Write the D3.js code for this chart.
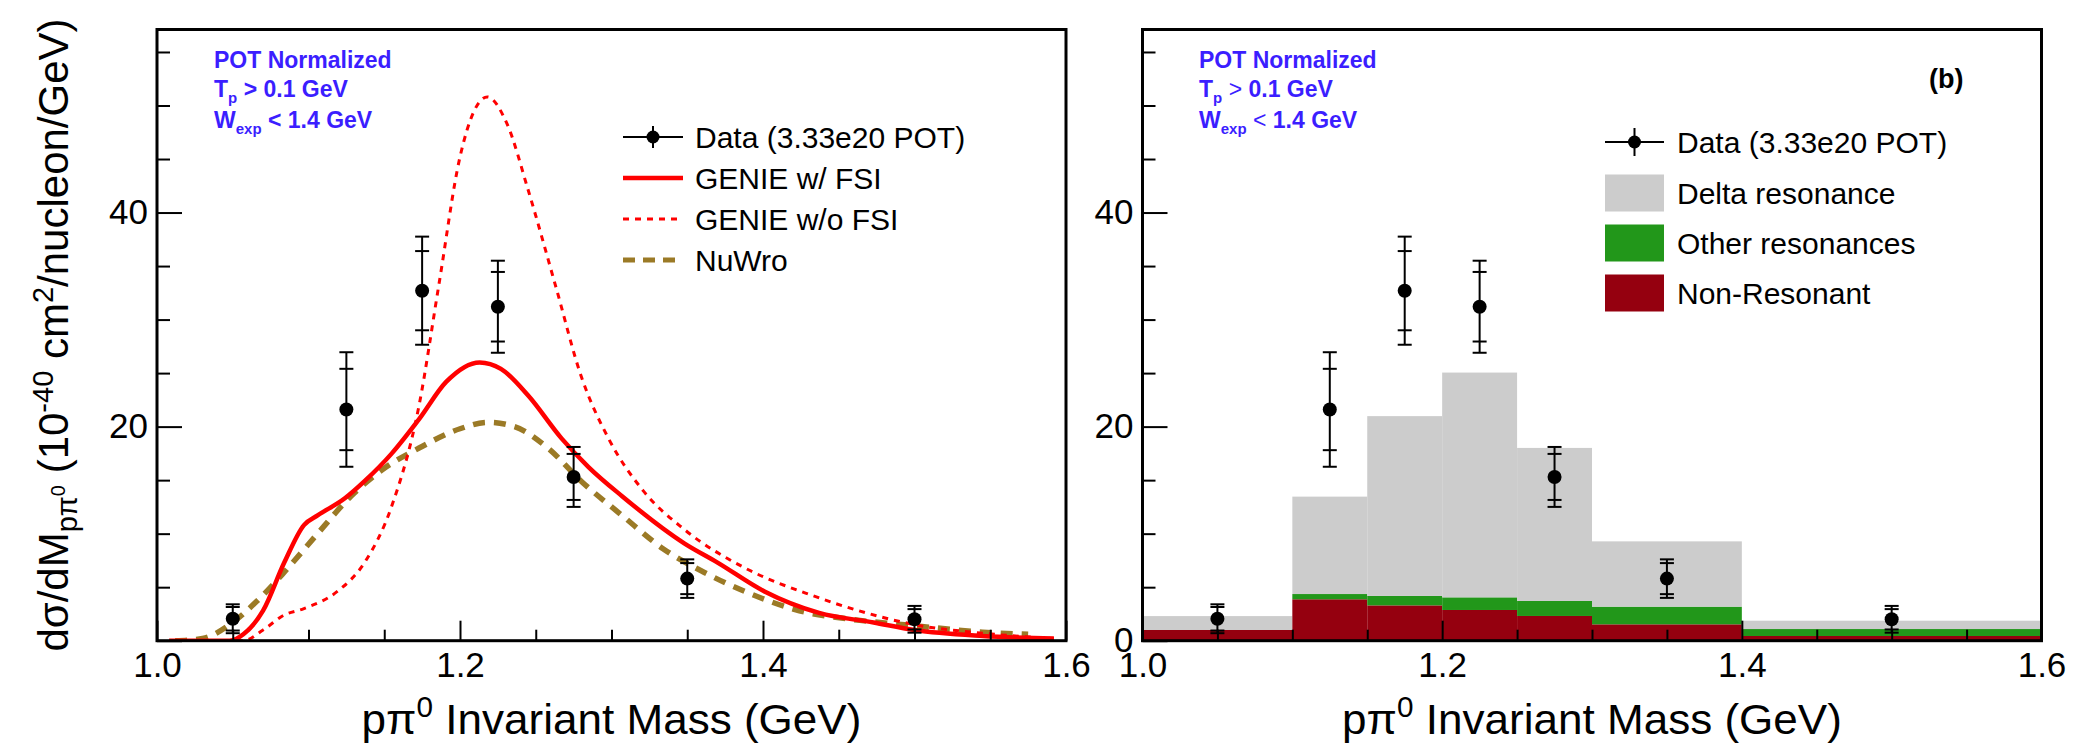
<!DOCTYPE html>
<html><head><meta charset="utf-8">
<script src="https://cdn.jsdelivr.net/npm/d3@7"></script>
<style>
body{margin:0;background:#fff;}
svg text{font-family:"Liberation Sans",Arial,Helvetica,sans-serif;}
</style></head><body>
<svg id="chart" width="2080" height="747"></svg>
<script>
// ---------- data ----------
const dataX = [1.05, 1.125, 1.175, 1.225, 1.275, 1.35, 1.5];
const dataY = [2.05, 21.6, 32.7, 31.2, 15.3, 5.8, 2.0];
const dataStatErr = [1.1, 3.8, 3.7, 3.25, 2.15, 1.45, 0.95];
const dataTotErr = [1.35, 5.35, 5.05, 4.3, 2.8, 1.8, 1.25];

const genieFsiX = [1.008,1.048,1.057,1.070,1.084,1.097,1.106,1.124,1.137,1.155,1.173,1.191,1.213,1.227,1.245,1.267,1.285,1.307,1.348,1.370,1.401,1.437,1.473,1.500,1.545,1.592];
const genieFsiY = [0,0,0.6,2.8,7.3,10.8,11.7,13.3,14.9,17.5,20.7,24.2,26.0,25.4,22.9,18.9,16.2,13.5,9.1,7.3,4.6,2.6,1.7,1.0,0.45,0.2];

const genieNoFsiX = [1.021,1.057,1.070,1.084,1.097,1.119,1.137,1.155,1.173,1.186,1.200,1.218,1.231,1.245,1.263,1.280,1.298,1.321,1.348,1.388,1.433,1.468,1.500,1.545,1.592];
const genieNoFsiY = [0,0,1.0,2.4,3.0,4.6,7.3,12.6,22.0,33.2,45.2,50.8,48.3,42.1,33.2,24.7,18.9,14.0,10.4,6.8,4.2,2.6,1.5,0.7,0.2];

const nuwroX = [1.012,1.030,1.048,1.066,1.084,1.106,1.128,1.151,1.173,1.200,1.218,1.236,1.258,1.280,1.307,1.334,1.361,1.388,1.424,1.464,1.500,1.545,1.575];
const nuwroY = [0,0.2,1.5,3.7,6.4,10.0,13.5,16.2,18.0,19.8,20.4,20.0,18.0,14.9,11.7,8.6,6.4,4.6,2.8,1.9,1.4,0.8,0.6];

const binEdges = [1.0, 1.1, 1.15, 1.2, 1.25, 1.3, 1.4, 1.6];
const nonResonant = [1.0, 3.87, 3.3, 2.87, 2.31, 1.53, 0.44];
const otherResonances = [0.0, 0.49, 0.88, 1.18, 1.4, 1.65, 0.65];
const deltaResonance = [1.3, 9.1, 16.8, 21.0, 14.3, 6.1, 0.78];

const xMajorTicks = [1.0, 1.2, 1.4, 1.6];
const xTickLabels = ["1.0", "1.2", "1.4", "1.6"];
const xMinorTicks = [1.05,1.1,1.15,1.25,1.3,1.35,1.45,1.5,1.55];
const yMajorTicks = [0, 20, 40];
const yMinorTicks = [5,10,15,25,30,35,45,50,55];
const yLabelsLeft = ["", "20", "40"];
const yLabelsRight = ["0", "20", "40"];

const legendLeft = ["Data (3.33e20 POT)", "GENIE w/ FSI", "GENIE w/o FSI", "NuWro"];
const legendRight = ["Data (3.33e20 POT)", "Delta resonance", "Other resonances", "Non-Resonant"];

// ---------- layout ----------
const svg = d3.select('#chart');
const yTop = 29.5, yBot = 640.7;
const panels = [{x0:157, x1:1066}, {x0:1142.5, x1:2041.5}];
const yMax = 57.1;
const BLUE = '#3b1eff';
const RED = '#ff0000';
const BROWN = '#9b7a26';
const GRAY = '#cccccc', GREEN = '#22971a', DKRED = '#95000f';

function scales(p){
  return {
    x: d3.scaleLinear().domain([1.0,1.6]).range([p.x0,p.x1]),
    y: d3.scaleLinear().domain([0,yMax]).range([yBot,yTop])
  };
}

function drawAxes(g, sx, sy, yLabels){
  const x0 = sx.range()[0];
  const clean = s => s.select('.domain').remove();
  g.append('g').attr('transform',`translate(${x0},0)`)
    .call(d3.axisLeft(sy).tickValues(yMinorTicks).tickSizeInner(-13).tickSizeOuter(0).tickFormat(''))
    .call(clean);
  g.append('g').attr('transform',`translate(${x0},0)`)
    .call(d3.axisLeft(sy).tickValues(yMajorTicks).tickSizeInner(-25).tickSizeOuter(0).tickPadding(9)
      .tickFormat((d,i)=>yLabels[i]))
    .call(clean);
  g.append('g').attr('transform',`translate(0,${yBot})`)
    .call(d3.axisBottom(sx).tickValues(xMinorTicks).tickSizeInner(-11).tickSizeOuter(0).tickFormat(''))
    .call(clean);
  g.append('g').attr('transform',`translate(0,${yBot})`)
    .call(d3.axisBottom(sx).tickValues(xMajorTicks).tickSizeInner(-20).tickSizeOuter(0).tickPadding(11)
      .tickFormat((d,i)=>xTickLabels[i]))
    .call(clean);
  g.selectAll('.tick line').attr('stroke','#000').attr('stroke-width',2);
  g.selectAll('.tick text').attr('font-size',35).attr('fill','#000')
    .attr('font-family','"Liberation Sans",Arial,Helvetica,sans-serif');
  g.append('rect').attr('x',sx.range()[0]).attr('y',yTop)
    .attr('width',sx.range()[1]-sx.range()[0]).attr('height',yBot-yTop)
    .attr('fill','none').attr('stroke','#000').attr('stroke-width',3);
}

function drawData(g, sx, sy){
  const pts = dataX.map((x,i)=>({x, y:dataY[i], s:dataStatErr[i], t:dataTotErr[i]}));
  const pg = g.append('g');
  pts.forEach(p=>{
    const cx = sx(p.x);
    pg.append('line').attr('x1',cx).attr('x2',cx).attr('y1',sy(p.y+p.t)).attr('y2',sy(Math.max(0,p.y-p.t)))
      .attr('stroke','#000').attr('stroke-width',2);
    [p.y+p.t, p.y-p.t, p.y+p.s, p.y-p.s].forEach(v=>{
      pg.append('line').attr('x1',cx-7).attr('x2',cx+7).attr('y1',sy(v)).attr('y2',sy(v))
        .attr('stroke','#000').attr('stroke-width',2);
    });
    pg.append('circle').attr('cx',cx).attr('cy',sy(p.y)).attr('r',7).attr('fill','#000');
  });
}

function drawNote(g, x, thinSigns){
  const t = g.append('g').attr('fill',BLUE).attr('font-weight','bold').attr('font-size',23);
  t.append('text').attr('x',x).attr('y',68).text('POT Normalized');
  const w = thinSigns ? 'normal' : 'bold';
  const t2 = t.append('text').attr('x',x).attr('y',97);
  t2.append('tspan').text('T');
  t2.append('tspan').attr('font-size',15).attr('dy',6).text('p');
  t2.append('tspan').attr('dy',-6).text(' ');
  t2.append('tspan').attr('font-weight',w).text('>');
  t2.append('tspan').text(' 0.1 GeV');
  const t3 = t.append('text').attr('x',x).attr('y',128);
  t3.append('tspan').text('W');
  t3.append('tspan').attr('font-size',15).attr('dy',6).text('exp');
  t3.append('tspan').attr('dy',-6).text(' ');
  t3.append('tspan').attr('font-weight',w).text('<');
  t3.append('tspan').text(' 1.4 GeV');
}

function xTitle(g, cx){
  const t = g.append('text').attr('x',0).attr('y',0).attr('text-anchor','middle').attr('font-size',43).attr('fill','#000');
  t.append('tspan').text('pπ');
  t.append('tspan').attr('font-size',29).attr('dy',-17).text('0');
  t.append('tspan').attr('dy',17).text(' Invariant Mass (GeV)');
  const w = t.node().getBBox().width;
  t.attr('transform',`translate(${cx},734) scale(${500/w},1)`);
}

function legendText(g, x, y, txt){
  g.append('text').attr('x',x).attr('y',y)
    .attr('dy','0.36em').attr('font-size',30).attr('fill','#000').text(txt);
}

function legendDataMarker(g, x1, x2, y, half){
  const cx = (x1+x2)/2;
  g.append('line').attr('x1',x1).attr('x2',x2).attr('y1',y).attr('y2',y).attr('stroke','#000').attr('stroke-width',2);
  g.append('line').attr('x1',cx).attr('x2',cx).attr('y1',y-half).attr('y2',y+half).attr('stroke','#000').attr('stroke-width',2);
  g.append('circle').attr('cx',cx).attr('cy',y).attr('r',6.5).attr('fill','#000');
}

// ---------- left panel ----------
{
  const s = scales(panels[0]);
  const g = svg.append('g');
  svg.append('clipPath').attr('id','clipL').append('rect')
    .attr('x',panels[0].x0).attr('y',yTop).attr('width',panels[0].x1-panels[0].x0).attr('height',yBot-yTop);
  const cg = g.append('g').attr('clip-path','url(#clipL)');
  const line = d3.line().x(d=>s.x(d[0])).y(d=>s.y(d[1])).curve(d3.curveMonotoneX);
  cg.append('path').datum(nuwroX.map((x,i)=>[x,nuwroY[i]])).attr('d',line)
    .attr('fill','none').attr('stroke',BROWN).attr('stroke-width',5.5).attr('stroke-dasharray','12,9');
  cg.append('path').datum(genieNoFsiX.map((x,i)=>[x,genieNoFsiY[i]])).attr('d',line)
    .attr('fill','none').attr('stroke',RED).attr('stroke-width',3).attr('stroke-dasharray','6,6');
  cg.append('path').datum(genieFsiX.map((x,i)=>[x,genieFsiY[i]])).attr('d',line)
    .attr('fill','none').attr('stroke',RED).attr('stroke-width',4.5);
  drawData(g, s.x, s.y);
  drawAxes(g, s.x, s.y, yLabelsLeft);
  drawNote(g, 214, false);
  xTitle(g, (panels[0].x0+panels[0].x1)/2);

  // legend
  const lg = g.append('g');
  const rows = [137, 178, 219, 260];
  const lx1 = 623, lx2 = 683;
  legendDataMarker(lg, lx1, lx2, rows[0], 11);
  lg.append('line').attr('x1',lx1).attr('x2',lx2).attr('y1',rows[1]).attr('y2',rows[1]).attr('stroke',RED).attr('stroke-width',4.5);
  lg.append('line').attr('x1',lx1).attr('x2',lx2).attr('y1',rows[2]).attr('y2',rows[2]).attr('stroke',RED).attr('stroke-width',3).attr('stroke-dasharray','6,6');
  lg.append('line').attr('x1',lx1).attr('x2',lx2).attr('y1',rows[3]).attr('y2',rows[3]).attr('stroke',BROWN).attr('stroke-width',5).attr('stroke-dasharray','12,8');
  legendLeft.forEach((t,i)=> legendText(lg, 695, rows[i], t));

  // y title
  const yt = svg.append('text').attr('transform','translate(68,335) rotate(-90)')
    .attr('text-anchor','middle').attr('font-size',42).attr('fill','#000');
  yt.append('tspan').text('dσ/dM');
  yt.append('tspan').attr('font-size',29).attr('dy',9).text('pπ');
  yt.append('tspan').attr('font-size',20).attr('dy',-12).text('0');
  yt.append('tspan').attr('dy',3).text(' (10');
  yt.append('tspan').attr('font-size',29).attr('dy',-15).text('-40');
  yt.append('tspan').attr('dy',15).text(' cm');
  yt.append('tspan').attr('font-size',29).attr('dy',-15).text('2');
  yt.append('tspan').attr('dy',15).text('/nucleon/GeV)');
}

// ---------- right panel ----------
{
  const s = scales(panels[1]);
  const g = svg.append('g');
  const bins = binEdges.slice(0,-1).map((e,i)=>({x0:e, x1:binEdges[i+1], a:nonResonant[i], b:otherResonances[i], c:deltaResonance[i]}));
  const stackKeys = [['a',DKRED],['b',GREEN],['c',GRAY]];
  const hg = g.append('g');
  bins.forEach(b=>{
    let base = 0;
    stackKeys.forEach(([k,col])=>{
      const v = b[k];
      if (v > 0) {
        hg.append('rect').attr('x',s.x(b.x0)).attr('width',s.x(b.x1)-s.x(b.x0))
          .attr('y',s.y(base+v)).attr('height',s.y(base)-s.y(base+v)).attr('fill',col);
      }
      base += v;
    });
  });
  drawData(g, s.x, s.y);
  drawAxes(g, s.x, s.y, yLabelsRight);
  drawNote(g, 1199, true);
  xTitle(g, (panels[1].x0+panels[1].x1)/2);
  g.append('text').attr('x',1929).attr('y',88).attr('font-size',27).attr('font-weight','bold').attr('fill','#000').text('(b)');

  const lg = g.append('g');
  const rows = [142, 193, 243, 293];
  const lx1 = 1605, lx2 = 1664;
  legendDataMarker(lg, lx1, lx2, rows[0], 14);
  [GRAY, GREEN, DKRED].forEach((c,i)=>{
    lg.append('rect').attr('x',lx1).attr('y',rows[i+1]-18.5).attr('width',lx2-lx1).attr('height',37).attr('fill',c);
  });
  legendRight.forEach((t,i)=> legendText(lg, 1677, rows[i], t));
}
</script>
</body></html>
